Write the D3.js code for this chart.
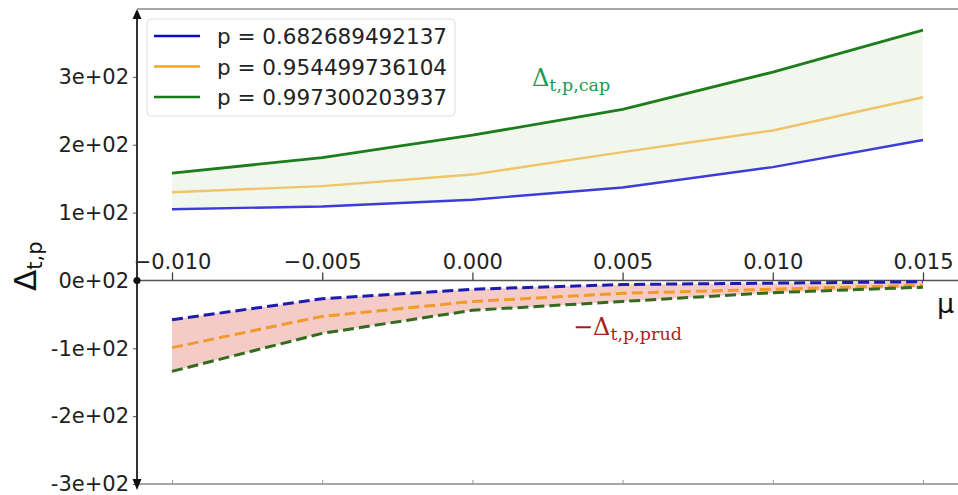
<!DOCTYPE html>
<html>
<head>
<meta charset="utf-8">
<script src="https://cdn.jsdelivr.net/npm/d3@7"></script>
<style>
  body { margin: 0; background: #fff; }
  svg { display: block; font-family: "DejaVu Sans", sans-serif; }
</style>
</head>
<body>
<div id="chart"></div>
<script>
// x values (mu) and the three confidence levels
const mu = [-0.010, -0.005, 0.000, 0.005, 0.010, 0.015];
const pLabels = ["p = 0.682689492137", "p = 0.954499736104", "p = 0.997300203937"];

// upper curves: Delta_{t,p,cap}
const capP1 = [105, 109, 119, 137, 167, 207];
const capP2 = [130, 139, 156, 189, 221, 270];
const capP3 = [158, 181, 214, 252, 307, 369];

// lower curves: -Delta_{t,p,prud}
const prudP1 = [-58, -27, -13, -6, -4, -2];
const prudP2 = [-99, -53, -31, -19, -13, -7];
const prudP3 = [-134, -78, -44, -31, -18, -10];

const xTicks = [-0.010, -0.005, 0.000, 0.005, 0.010, 0.015];
const xTickLabels = ["\u22120.010", "\u22120.005", "0.000", "0.005", "0.010", "0.015"];
const yTicks = [-300, -200, -100, 0, 100, 200, 300];
const yTickLabels = ["-3e+02", "-2e+02", "-1e+02", "0e+02", "1e+02", "2e+02", "3e+02"];

const W = 958, H = 495;
const axisX = 137;

const svg = d3.select("#chart").append("svg")
  .attr("width", W)
  .attr("height", H);

const x = d3.scaleLinear().domain([-0.010, 0.015]).range([172, 923]);
const y = d3.scaleLinear().domain([-300, 400]).range([484, 9]);

// Fills between outer curves.
const band = (lo, hi) => d3.area()
  .x((d, i) => x(mu[i]))
  .y0((d, i) => y(lo[i]))
  .y1((d, i) => y(hi[i]));

svg.append("path")
  .datum(mu)
  .attr("fill", "#f1f7ed")
  .attr("d", band(capP1, capP3));

svg.append("path")
  .datum(mu)
  .attr("fill", "#f4cbc6")
  .attr("d", band(prudP3, prudP1));

// Spines and axes.
svg.append("line")
  .attr("x1", axisX).attr("x2", W)
  .attr("y1", 9).attr("y2", 9)
  .attr("stroke", "#8a8a8a").attr("stroke-width", 1.5);

svg.append("line")
  .attr("x1", axisX).attr("x2", W)
  .attr("y1", 484).attr("y2", 484)
  .attr("stroke", "#8a8a8a").attr("stroke-width", 1.5);

svg.append("line")
  .attr("x1", axisX).attr("x2", W)
  .attr("y1", y(0)).attr("y2", y(0))
  .attr("stroke", "#555").attr("stroke-width", 1.6);

// bottom spine ticks
const xBottom = svg.append("g")
  .attr("transform", "translate(0,484)")
  .call(d3.axisTop(x).tickValues(xTicks).tickSize(4).tickFormat(""));
xBottom.select(".domain").remove();
xBottom.selectAll("line").attr("stroke", "#999");

// x axis through zero, labels above
const xAxis = svg.append("g")
  .attr("transform", `translate(0,${y(0)})`)
  .call(d3.axisTop(x).tickValues(xTicks).tickSize(8).tickPadding(3)
    .tickFormat((d, i) => xTickLabels[i]));
xAxis.select(".domain").remove();
xAxis.selectAll("line").attr("stroke", "#444").attr("stroke-width", 1.3);
xAxis.selectAll("text")
  .attr("font-size", 21)
  .attr("font-family", "DejaVu Sans, sans-serif")
  .attr("fill", "#222");

// y axis
const yAxis = svg.append("g")
  .attr("transform", `translate(${axisX},0)`)
  .call(d3.axisLeft(y).tickValues(yTicks).tickSize(4).tickPadding(4)
    .tickFormat((d, i) => yTickLabels[i]));
yAxis.select(".domain").remove();
yAxis.selectAll("line").attr("stroke", "#555");
yAxis.selectAll("text")
  .attr("font-size", 21)
  .attr("font-family", "DejaVu Sans, sans-serif")
  .attr("fill", "#222");

svg.append("line")
  .attr("x1", axisX).attr("x2", axisX)
  .attr("y1", 14).attr("y2", 482)
  .attr("stroke", "#333").attr("stroke-width", 2);

// arrow heads and origin dot
svg.append("path")
  .attr("d", `M${axisX},9 L${axisX - 4.5},19 L${axisX + 4.5},19 Z`)
  .attr("fill", "#111");
svg.append("path")
  .attr("d", `M${axisX},490 L${axisX - 4.5},479 L${axisX + 4.5},479 Z`)
  .attr("fill", "#111");
svg.append("circle")
  .attr("cx", axisX).attr("cy", y(0)).attr("r", 3.5)
  .attr("fill", "#111");

// Lines.
const line = vals => d3.line()
  .x((d, i) => x(mu[i]))
  .y((d, i) => y(vals[i]))(mu);

const upper = [
  {vals: capP1, color: "#3c3cd8", width: 2.4},
  {vals: capP2, color: "#f0c468", width: 2.4},
  {vals: capP3, color: "#1d7d1d", width: 2.8}
];
upper.forEach(s => {
  svg.append("path")
    .attr("d", line(s.vals))
    .attr("fill", "none")
    .attr("stroke", s.color)
    .attr("stroke-width", s.width);
});

const lower = [
  {vals: prudP1, color: "#1c1cae"},
  {vals: prudP2, color: "#f29a2e"},
  {vals: prudP3, color: "#356b1e"}
];
lower.forEach(s => {
  svg.append("path")
    .attr("d", line(s.vals))
    .attr("fill", "none")
    .attr("stroke", s.color)
    .attr("stroke-width", 3)
    .attr("stroke-dasharray", "11,5");
});

// Legend.
const legendColors = ["#0a0acc", "#f5a623", "#1a7a1a"];
const legend = svg.append("g");
legend.append("rect")
  .attr("x", 147).attr("y", 19)
  .attr("width", 308).attr("height", 97)
  .attr("rx", 4)
  .attr("fill", "#fff").attr("fill-opacity", 0.85)
  .attr("stroke", "#ddd");
pLabels.forEach((lab, i) => {
  const ly = 36 + i * 30.5;
  legend.append("line")
    .attr("x1", 154).attr("x2", 200)
    .attr("y1", ly).attr("y2", ly)
    .attr("stroke", legendColors[i]).attr("stroke-width", 2.5);
  legend.append("text")
    .attr("x", 217).attr("y", ly + 8)
    .attr("font-size", 21.5)
    .attr("fill", "#222")
    .text(lab);
});

// Annotations.
const capLabel = svg.append("text")
  .attr("x", 532).attr("y", 86)
  .attr("font-family", "DejaVu Serif, serif")
  .attr("fill", "#179c52");
capLabel.append("tspan").attr("font-size", 24).text("\u0394");
capLabel.append("tspan").attr("font-size", 17.5)
  .attr("dy", 5).text("t,p,cap");

const prudLabel = svg.append("text")
  .attr("x", 573).attr("y", 335)
  .attr("font-family", "DejaVu Serif, serif")
  .attr("fill", "#b01c1c");
prudLabel.append("tspan").attr("font-size", 24).text("\u2212\u0394");
prudLabel.append("tspan").attr("font-size", 17.5)
  .attr("dy", 5).text("t,p,prud");

// axis titles
svg.append("text")
  .attr("x", 937).attr("y", 313)
  .attr("font-size", 27)
  .attr("fill", "#111")
  .text("\u03bc");

const yTitle = svg.append("text")
  .attr("transform", "translate(36,291) rotate(-90)")
  .attr("fill", "#111");
yTitle.append("tspan").attr("font-size", 31).text("\u0394");
yTitle.append("tspan").attr("font-size", 21).attr("dy", 6).text("t,p");
</script>
</body>
</html>
